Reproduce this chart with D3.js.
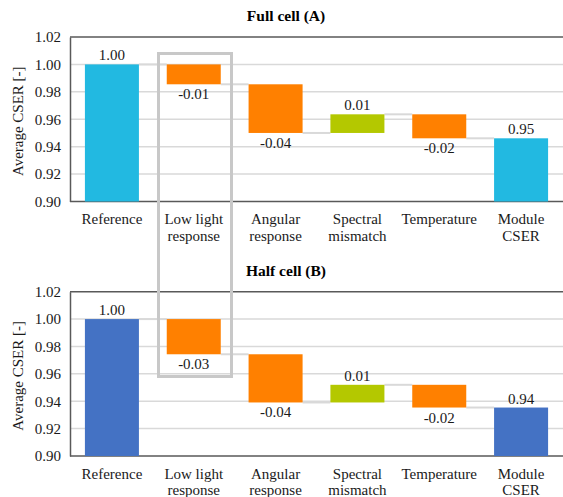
<!DOCTYPE html>
<html><head><meta charset="utf-8">
<script src="https://cdn.jsdelivr.net/npm/d3@7"></script>
</head><body style="margin:0;background:#fff"><svg id="c" width="563" height="497" style="display:block"></svg>
<script>
const categories = ["Reference", "Low light|response", "Angular|response", "Spectral|mismatch", "Temperature", "Module|CSER"];
const startValue = 1.00;
const deltasA = [-0.0145, -0.0355, 0.0136, -0.0175];
const deltasB = [-0.0257, -0.0352, 0.0129, -0.0166];
const yTicks = [0.90, 0.92, 0.94, 0.96, 0.98, 1.00, 1.02];
const titles = ["Full cell (A)", "Half cell (B)"];
const totalColors = ["#22b9e1", "#4472c4"];
const negColor = "#ff8000", posColor = "#b4c800";

const FONT = '"Liberation Serif", serif';
const svg = d3.select("#c");
const f2 = d3.format(".2f");
const fmt = v => f2(v).replace("\u2212", "-");
const x = d3.scaleBand().domain(categories).range([71, 562]).paddingInner(0.34).paddingOuter(0.17);

function build(deltas) {
  const rows = [];
  let cur = startValue;
  rows.push({cat: categories[0], y0: 0.9, y1: cur, v: cur, total: true});
  deltas.forEach((d, i) => {
    const nxt = cur + d;
    rows.push({cat: categories[i + 1], y0: Math.min(cur, nxt), y1: Math.max(cur, nxt), v: d, from: cur, to: nxt});
    cur = nxt;
  });
  rows.push({cat: categories[5], y0: 0.9, y1: cur, v: cur, total: true});
  return rows;
}

function panel(deltas, top, bottom, title, totColor) {
  const y = d3.scaleLinear().domain([0.90, 1.02]).range([bottom, top]);
  const g = svg.append("g");
  g.selectAll(".grid").data(yTicks.slice(1, -1)).join("line")
    .attr("x1", 71).attr("x2", 563).attr("y1", d => y(d)).attr("y2", d => y(d))
    .attr("stroke", "#d9d9d9").attr("stroke-width", 1.5);
  [1.02, 0.90].forEach(v => g.append("line").attr("x1", 70).attr("x2", 563)
    .attr("y1", y(v)).attr("y2", y(v)).attr("stroke", "#595959").attr("stroke-width", 1.5));
  const ax = g.append("g").attr("transform", "translate(70,0)")
    .call(d3.axisLeft(y).tickValues(yTicks).tickFormat(fmt).tickSize(0).tickPadding(9));
  ax.attr("font-family", null).attr("font-size", null);
  ax.select(".domain").attr("stroke", "#595959").attr("stroke-width", 1.5);
  ax.selectAll("text").attr("fill", "#1a1a1a").attr("font-family", FONT).attr("font-size", 15);

  const rows = build(deltas);
  for (let i = 0; i < rows.length - 1; i++) {
    const a = rows[i], b = rows[i + 1];
    const lv = a.total ? a.y1 : a.to;
    g.append("line").attr("x1", x(a.cat) + x.bandwidth()).attr("x2", x(b.cat))
      .attr("y1", y(lv)).attr("y2", y(lv)).attr("stroke", "#d9d9d9").attr("stroke-width", 2);
  }
  g.selectAll(".bar").data(rows).join("rect")
    .attr("x", d => x(d.cat)).attr("width", x.bandwidth())
    .attr("y", d => y(d.y1)).attr("height", d => y(d.y0) - y(d.y1))
    .attr("fill", d => d.total ? totColor : (d.v < 0 ? negColor : posColor));
  g.selectAll(".lbl").data(rows).join("text")
    .attr("x", d => x(d.cat) + x.bandwidth() / 2)
    .attr("y", d => (d.total || d.v > 0) ? y(d.y1) - 4 : y(d.y0) + 15)
    .attr("text-anchor", "middle").attr("font-family", FONT).attr("font-size", 15).attr("fill", "#1a1a1a")
    .text(d => fmt(d.v));
  categories.forEach(c => {
    const parts = c.split("|");
    const t = g.append("text").attr("x", x(c) + x.bandwidth() / 2).attr("y", bottom + 22.5)
      .attr("text-anchor", "middle").attr("font-family", FONT).attr("font-size", 15).attr("fill", "#1a1a1a");
    parts.forEach((p, i) => t.append("tspan").attr("x", x(c) + x.bandwidth() / 2).attr("dy", i ? 16.5 : 0).text(p));
  });
  g.append("text").attr("transform", `translate(23,${(top + bottom) / 2 + 2}) rotate(-90)`)
    .attr("text-anchor", "middle").attr("font-family", FONT).attr("font-size", 15).attr("fill", "#1a1a1a").text("Average CSER [-]");
  g.append("text").attr("x", 286).attr("y", top - 16).attr("text-anchor", "middle").attr("font-family", FONT)
    .attr("font-size", 15.5).attr("font-weight", "bold").attr("fill", "#000").text(title);
}

panel(deltasA, 37, 201.5, titles[0], totalColors[0]);
panel(deltasB, 291.7, 456, titles[1], totalColors[1]);

svg.append("rect").attr("x", 158.5).attr("y", 53.5).attr("width", 73).attr("height", 323)
  .attr("fill", "none").attr("stroke", "#c8c8c8").attr("stroke-width", 3);
</script></body></html>
